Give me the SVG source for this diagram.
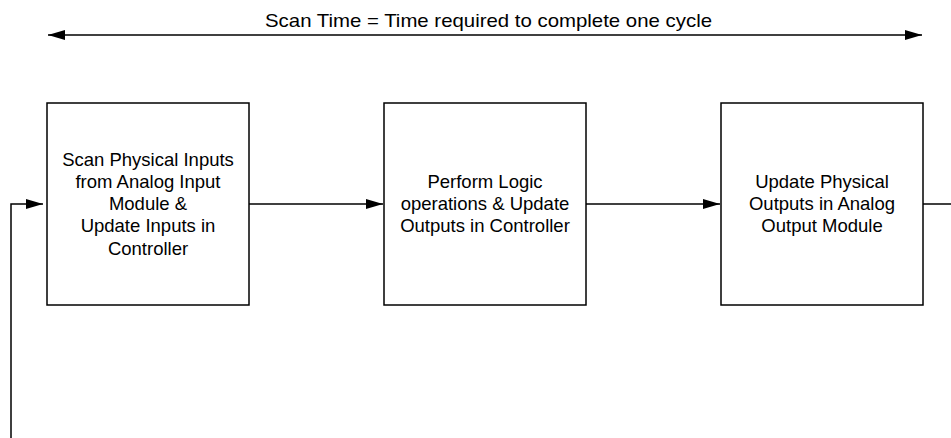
<svg xmlns="http://www.w3.org/2000/svg" width="951" height="438" viewBox="0 0 951 438">
<style>
.box{fill:#fff;stroke:#000;stroke-width:1.5}
.lbl{font-family:"Liberation Sans",Arial,sans-serif;font-size:18.5px;fill:#000;text-anchor:middle}
.ttl{font-family:"Liberation Sans",Arial,sans-serif;font-size:19px;fill:#000;text-anchor:middle}
.ln{fill:none;stroke:#000;stroke-width:1.5}
</style>
<defs>
<marker id="ah" viewBox="0 0 17 10" refX="17" refY="5" markerWidth="17" markerHeight="10" markerUnits="userSpaceOnUse" orient="auto-start-reverse">
<path d="M0,0 L17,5 L0,10 Z" fill="#000"/>
</marker>
</defs>
<g id="scan-time">
<text class="ttl" x="488.5" y="26.5" textLength="447" lengthAdjust="spacingAndGlyphs">Scan Time = Time required to complete one cycle</text>
</g>
<g id="connectors">
<line class="ln" x1="48" y1="35" x2="922" y2="35" marker-start="url(#ah)" marker-end="url(#ah)"/>
<line class="ln" x1="249" y1="204" x2="383" y2="204" marker-end="url(#ah)"/>
<line class="ln" x1="586" y1="204" x2="720" y2="204" marker-end="url(#ah)"/>
<line class="ln" x1="923" y1="204" x2="951" y2="204"/>
<polyline class="ln" points="11,438 11,204 43,204" marker-end="url(#ah)"/>
</g>
<g id="node-scan">
<rect class="box" x="47" y="103" width="202" height="202"/>
<text class="lbl" x="148" y="165.5">Scan Physical Inputs</text>
<text class="lbl" x="148" y="187.5">from Analog Input</text>
<text class="lbl" x="148" y="210">Module &amp;</text>
<text class="lbl" x="148" y="232">Update Inputs in</text>
<text class="lbl" x="148" y="254.5">Controller</text>
</g>
<g id="node-logic">
<rect class="box" x="384" y="103" width="202" height="202"/>
<text class="lbl" x="485" y="187.5">Perform Logic</text>
<text class="lbl" x="485" y="210">operations &amp; Update</text>
<text class="lbl" x="485" y="232">Outputs in Controller</text>
</g>
<g id="node-output">
<rect class="box" x="721" y="103" width="202" height="202"/>
<text class="lbl" x="822" y="187.5">Update Physical</text>
<text class="lbl" x="822" y="210">Outputs in Analog</text>
<text class="lbl" x="822" y="232">Output Module</text>
</g>
</svg>
